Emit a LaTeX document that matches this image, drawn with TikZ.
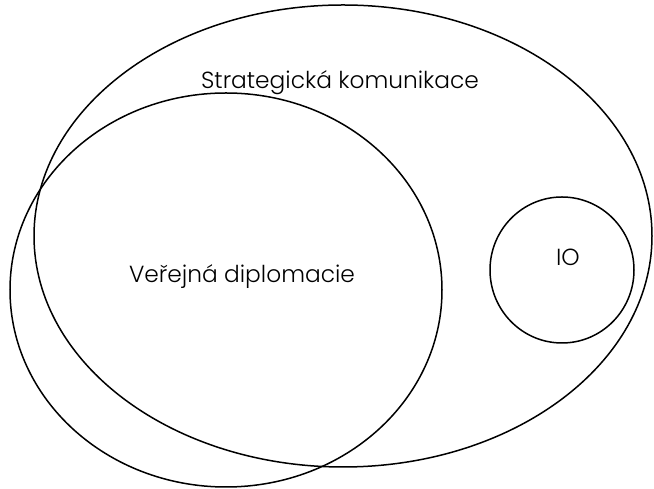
\documentclass[tikz,border=0pt]{standalone}
\usepackage{fontspec}
\setmainfont{Poppins Light}
\begin{document}
\begin{tikzpicture}[x=1pt,y=1pt,
  shape outline/.style={draw=black,line width=1.5pt},
  lbl/.style={font=\fontsize{23.3}{26}\selectfont, inner sep=0pt}]
\useasboundingbox (0,0) rectangle (654,489);
\draw[shape outline] (343,253) ellipse [x radius=309, y radius=231];
\draw[shape outline] (226,199) ellipse [x radius=216, y radius=197];
\draw[shape outline] (562,219) ellipse [x radius=72, y radius=73];
\node[lbl] (t1) at (340,406) {Strategická komunikace};
\node[lbl] (t2) at (242,212) {Veřejná diplomacie};
\node[lbl] (t3) at (568,232) {IO};
\end{tikzpicture}
\end{document}
